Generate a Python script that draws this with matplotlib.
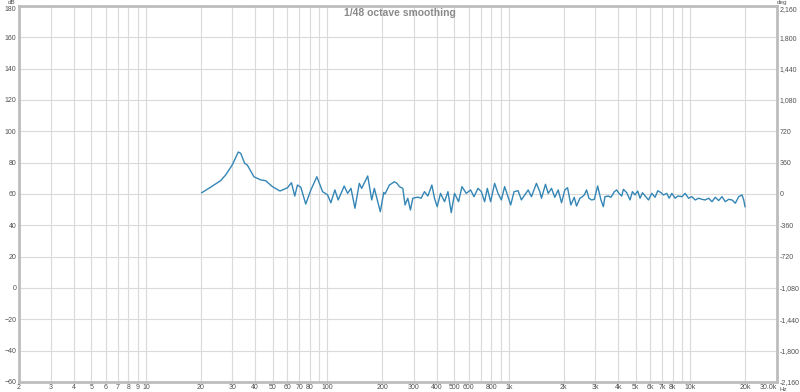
import matplotlib
matplotlib.use("Agg")
import matplotlib.pyplot as plt
from matplotlib.ticker import FixedLocator, FixedFormatter, FuncFormatter

plt.rcParams["font.family"] = ["Liberation Sans", "DejaVu Sans"]

# frequency response (Hz, dB)
freq = [
    20.3, 22.7, 25.8, 27.5, 29.9, 32.3, 33.3, 35.0, 36.2, 39.4,
    42.9, 45.7, 49.8, 54.8, 60.3, 63.4, 66.1, 68.4, 71.4, 76.0,
    81.1, 87.5, 94.1, 100.3, 104.5, 110.0, 114.7, 123.8, 129.3, 134.9,
    141.9, 149.9, 154.5, 166.8, 175.5, 181.4, 195.7, 204.4, 207.7, 219.5,
    233.9, 242.1, 249.3, 260.3, 268.0, 277.3, 286.7, 295.6, 315.1, 328.6,
    342.6, 357.7, 376.4, 389.1, 402.7, 420.1, 442.0, 461.5, 481.3, 501.9,
    528.1, 551.4, 582.4, 615.2, 642.3, 675.8, 704.7, 734.9, 760.5, 793.1,
    834.5, 871.4, 908.8, 947.8, 1023, 1068, 1124, 1172, 1223, 1277,
    1331, 1418, 1480, 1512, 1591, 1647, 1717, 1790, 1869, 1950,
    2033, 2105, 2195, 2291, 2359, 2461, 2514, 2603, 2680, 2760,
    2856, 2956, 3083, 3215, 3314, 3383, 3532, 3651, 3812, 3925,
    4042, 4183, 4275, 4459, 4650, 4794, 4954, 5127, 5280, 5444,
    5675, 5875, 6127, 6389, 6612, 6896, 7110, 7416, 7636, 7903,
    8242, 8529, 8976, 9359, 9772, 10190, 10630, 11100, 11570, 12070,
    12600, 13150, 13710, 14320, 14930, 15570, 16250, 16960, 17680, 18460,
    19250, 19670, 20000,
]
spl = [
    60.8, 64.3, 68.5, 72.1, 78.5, 86.8, 86.0, 79.6, 78.5, 71.0,
    69.0, 68.5, 64.7, 61.9, 64.0, 67.2, 58.7, 65.7, 64.3, 53.6,
    62.6, 71.0, 61.5, 59.4, 54.4, 62.6, 56.2, 65.1, 60.4, 63.6,
    50.9, 66.8, 63.6, 71.5, 56.2, 63.6, 48.7, 61.0, 60.0, 65.7,
    67.8, 66.8, 64.7, 63.6, 53.0, 57.3, 49.8, 57.3, 58.0, 57.3,
    61.5, 58.7, 65.7, 57.3, 51.9, 60.4, 55.1, 61.5, 48.1, 60.4,
    55.1, 64.7, 60.4, 62.6, 58.3, 63.6, 61.5, 55.1, 63.6, 55.1,
    66.8, 60.4, 56.2, 64.7, 53.0, 61.5, 62.1, 56.2, 59.4, 62.6,
    58.3, 66.8, 61.5, 57.3, 66.2, 60.4, 63.6, 57.9, 62.6, 54.4,
    62.6, 64.0, 53.0, 57.9, 52.3, 57.3, 57.9, 59.4, 62.6, 57.3,
    56.2, 56.6, 65.1, 56.2, 51.9, 58.3, 58.7, 57.9, 61.5, 62.6,
    60.4, 58.7, 63.0, 60.8, 56.2, 61.5, 59.4, 61.9, 57.3, 60.8,
    58.3, 56.2, 60.4, 57.9, 62.1, 60.8, 59.4, 60.4, 57.3, 60.4,
    57.3, 58.7, 58.3, 60.4, 57.3, 58.3, 56.2, 57.3, 56.6, 56.2,
    57.3, 55.1, 57.9, 55.8, 58.3, 55.1, 56.6, 56.2, 54.1, 58.3,
    59.4, 56.2, 51.9,
]

x_grid = [2, 3, 4, 5, 6, 7, 8, 9, 10, 20, 30, 40, 50, 60, 70, 80, 90,
          100, 200, 300, 400, 500, 600, 700, 800, 900, 1000, 2000, 3000,
          4000, 5000, 6000, 7000, 8000, 9000, 10000, 20000, 30000]
x_labels = ["2", "3", "4", "5", "6", "7", "8", "9", "10", "20", "30", "40",
            "50", "60", "70", "80", "", "100", "200", "300", "400", "500",
            "600", "", "800", "", "1k", "2k", "3k", "4k", "5k", "6k", "7k",
            "8k", "", "10k", "20k", "30.0k"]
db_ticks = [-60, -40, -20, 0, 20, 40, 60, 80, 100, 120, 140, 160, 180]
deg_ticks = [-2160, -1800, -1440, -1080, -720, -360, 0, 360, 720, 1080,
             1440, 1800, 2160]

txt = "#505050"
frame = "#bdbdbd"

fig = plt.figure(figsize=(8, 3.92), dpi=100)
ax = fig.add_axes([19 / 800, 10 / 392, 758 / 800, 376 / 392])

ax.set_xscale("log")
ax.set_xlim(2, 30000)
ax.set_ylim(-60, 180)
ax.xaxis.set_major_locator(FixedLocator(x_grid))
ax.xaxis.set_major_formatter(FixedFormatter(x_labels))
ax.xaxis.set_minor_locator(FixedLocator([]))
ax.set_yticks(db_ticks)
ax.grid(True, color="#dadada", linewidth=0.8)
ax.set_axisbelow(True)
ax.tick_params(length=0, labelsize=5, colors=txt, pad=2)
ax.tick_params(axis="x", pad=1.5)

for s in ax.spines.values():
    s.set_color(frame)
    s.set_linewidth(2)

ax.plot(freq, spl, color="#3486b6", linewidth=1.0)

ax2 = ax.twinx()
ax2.set_ylim(-2160, 2160)
ax2.set_yticks(deg_ticks)
ax2.yaxis.set_major_formatter(FuncFormatter(lambda v, p: f"{int(v):,}"))
ax2.tick_params(length=0, labelsize=5, colors=txt, pad=2)
for s in ax2.spines.values():
    s.set_visible(False)

fig.canvas.draw()
# top labels sit just under the frame, last x label ends at the frame
ax.get_yticklabels()[-1].set_va("top")
ax2.get_yticklabels()[-1].set_va("top")
ax.get_xticklabels()[-1].set_ha("right")

fig.text(400 / 800, 1 - 13 / 392, "1/48 octave smoothing", ha="center",
         va="center", fontsize=7.5, fontweight="bold", color="#8a8a8a")
fig.text(12 / 800, 1.0, "dB", ha="center", va="top",
         fontsize=4.5, color=txt)
fig.text(777 / 800, 1.0, "deg", ha="left", va="top",
         fontsize=4.5, color=txt)
fig.text(779 / 800, 0.0, "Hz", ha="left", va="bottom",
         fontsize=4.5, color=txt)

fig.savefig("out.png", dpi=100)
